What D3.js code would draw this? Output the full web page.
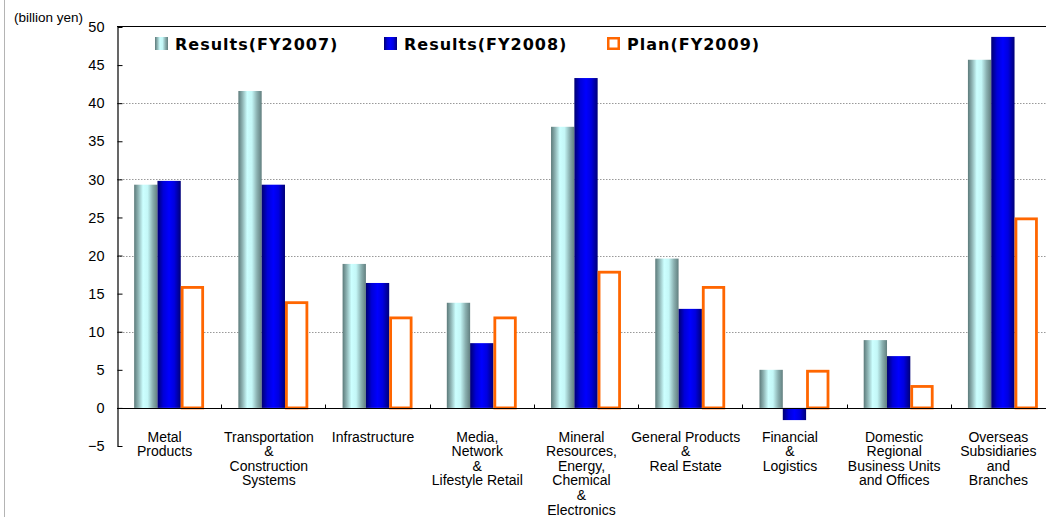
<!DOCTYPE html>
<html>
<head>
<meta charset="utf-8">
<script src="https://cdn.jsdelivr.net/npm/d3@7/dist/d3.min.js"></script>
<style>
  html, body { margin: 0; padding: 0; background: #fff; }
  svg { display: block; }
</style>
</head>
<body>
<svg id="chart" width="1046" height="517"></svg>
<script>
// Segment labels (each entry is the stack of lines printed under the group)
const categories = [
  ["Metal", "Products"],
  ["Transportation", "&", "Construction", "Systems"],
  ["Infrastructure"],
  ["Media,", "Network", "&", "Lifestyle Retail"],
  ["Mineral", "Resources,", "Energy,", "Chemical", "&", "Electronics"],
  ["General Products", "&", "Real Estate"],
  ["Financial", "&", "Logistics"],
  ["Domestic", "Regional", "Business Units", "and Offices"],
  ["Overseas", "Subsidiaries", "and", "Branches"]
];

const seriesNames = ["Results(FY2007)", "Results(FY2008)", "Plan(FY2009)"];

// billion yen
const results2007 = [29.3, 41.6, 18.9, 13.8, 36.9, 19.6, 5.0, 8.9, 45.7];
const results2008 = [29.8, 29.3, 16.4, 8.5, 43.3, 13.0, -1.6, 6.8, 48.7];
const plan2009    = [16, 14, 12, 12, 18, 16, 5, 3, 25];

const yTicks = [-5, 0, 5, 10, 15, 20, 25, 30, 35, 40, 45, 50];
const gridValues = [10, 20, 30, 40];

const svg = d3.select("#chart");
const catKeys = categories.map((c, i) => i);

const plotLeft = 117, plotRight = 1055, plotTop = 27, plotBottom = 446;

const x0 = d3.scaleBand().domain(catKeys).range([plotLeft, plotRight]).padding(0);
const x1 = d3.scaleBand().domain([0, 1, 2]).range([0, x0.bandwidth()])
  .paddingInner(0).paddingOuter(0.736);
const y = d3.scaleLinear().domain([-5, 50]).range([plotBottom, plotTop]);

// gradients for the shaded bars
const defs = svg.append("defs");
function hGrad(id, stops) {
  const g = defs.append("linearGradient").attr("id", id)
    .attr("x1", "0%").attr("x2", "100%").attr("y1", "0%").attr("y2", "0%");
  stops.forEach(([o, c]) => g.append("stop").attr("offset", o).attr("stop-color", c));
}
hGrad("tealGrad", [["0%", "#5c7a7a"], ["18%", "#8fb5b5"], ["38%", "#ccffff"], ["58%", "#c4f7f7"], ["80%", "#8ab0b0"], ["100%", "#627f7f"]]);
hGrad("blueGrad", [["0%", "#000070"], ["25%", "#0000d8"], ["50%", "#0000ff"], ["72%", "#0000e0"], ["100%", "#000078"]]);

// outer frame edge
svg.append("line").attr("x1", 4.5).attr("x2", 4.5).attr("y1", 0).attr("y2", 517)
  .attr("stroke", "#b4b4b4").attr("stroke-width", 1);

// dotted gridlines
svg.append("g").selectAll("line").data(gridValues).join("line")
  .attr("x1", plotLeft).attr("x2", 1046)
  .attr("y1", d => Math.round(y(d)) + 0.5).attr("y2", d => Math.round(y(d)) + 0.5)
  .attr("stroke", "#999").attr("stroke-width", 1).attr("stroke-dasharray", "1.5,1.5");

// top border of plot
svg.append("line").attr("x1", plotLeft).attr("x2", 1046)
  .attr("y1", Math.round(y(50)) - 0.5).attr("y2", Math.round(y(50)) - 0.5)
  .attr("stroke", "#000").attr("stroke-width", 1.2);

// bars
const groups = svg.append("g").selectAll("g").data(catKeys).join("g")
  .attr("transform", i => `translate(${x0(i)},0)`);

groups.append("rect")
  .attr("x", x1(0)).attr("width", x1.bandwidth())
  .attr("y", i => y(Math.max(0, results2007[i])))
  .attr("height", i => Math.abs(y(results2007[i]) - y(0)))
  .attr("fill", "url(#tealGrad)");

groups.append("rect")
  .attr("x", x1(1)).attr("width", x1.bandwidth())
  .attr("y", i => y(Math.max(0, results2008[i])))
  .attr("height", i => Math.abs(y(results2008[i]) - y(0)))
  .attr("fill", "url(#blueGrad)");

const sw = 2.8;
groups.append("rect")
  .attr("x", x1(2) + sw / 2).attr("width", x1.bandwidth() - sw)
  .attr("y", i => y(Math.max(0, plan2009[i])) + sw / 2)
  .attr("height", i => Math.abs(y(plan2009[i]) - y(0)) - sw / 2)
  .attr("fill", "#fff").attr("stroke", "#ff6600").attr("stroke-width", sw);

// zero line with category ticks
const zeroY = Math.round(y(0)) + 0.5;
svg.append("line").attr("x1", plotLeft).attr("x2", 1046)
  .attr("y1", zeroY).attr("y2", zeroY).attr("stroke", "#000").attr("stroke-width", 1.2);
svg.append("g").selectAll("line").data(catKeys.slice(1)).join("line")
  .attr("x1", i => Math.round(x0(i)) + 0.5).attr("x2", i => Math.round(x0(i)) + 0.5)
  .attr("y1", zeroY - 4).attr("y2", zeroY)
  .attr("stroke", "#000").attr("stroke-width", 1);

// y axis
const yAxis = d3.axisLeft(y).tickValues(yTicks).tickSizeInner(-5).tickSizeOuter(0)
  .tickPadding(13)
  .tickFormat(d => d < 0 ? "\u2212" + Math.abs(d) : d);
const ya = svg.append("g").attr("transform", `translate(${plotLeft + 0.5},0)`).call(yAxis);
ya.select(".domain").attr("stroke", "#000").attr("stroke-width", 1.2);
ya.selectAll(".tick line").attr("stroke", "#000");
ya.selectAll(".tick text")
  .attr("font-family", "'Liberation Sans', Arial, sans-serif")
  .attr("font-size", 14.5).attr("fill", "#000");

// unit label
svg.append("text").attr("x", 14).attr("y", 22)
  .attr("font-family", "'Liberation Sans', Arial, sans-serif")
  .attr("font-size", 13.5).attr("fill", "#000").text("(billion yen)");

// category labels, set slightly left of the group centre
const labelShift = -4.5;
const labels = svg.append("g")
  .attr("font-family", "'Liberation Sans', Arial, sans-serif")
  .attr("font-size", 14).attr("fill", "#000").attr("text-anchor", "middle");
labels.selectAll("text").data(catKeys).join("text")
  .attr("x", i => x0(i) + x0.bandwidth() / 2 + labelShift)
  .attr("y", 441.5)
  .each(function(i) {
    const t = d3.select(this);
    categories[i].forEach((line, k) => {
      t.append("tspan").attr("x", x0(i) + x0.bandwidth() / 2 + labelShift)
        .attr("dy", k === 0 ? 0 : 14.6).text(line);
    });
  });

// legend
const legendX = [155, 384, 607];
const fills = ["url(#tealGrad)", "url(#blueGrad)", "#fff"];
const leg = svg.append("g").selectAll("g").data(seriesNames).join("g")
  .attr("transform", (d, i) => `translate(${legendX[i]},37)`);
leg.append("rect")
  .attr("x", (d, i) => i === 2 ? 1.25 : 0).attr("y", (d, i) => i === 2 ? 1.25 : 0)
  .attr("width", (d, i) => i === 2 ? 10.5 : 13)
  .attr("height", (d, i) => i === 2 ? 10.5 : 13)
  .attr("fill", (d, i) => fills[i])
  .attr("stroke", (d, i) => i === 2 ? "#ff6600" : "none")
  .attr("stroke-width", 2.5);
leg.append("text")
  .attr("x", 20)
  .attr("y", 13)
  .attr("font-family", "'DejaVu Sans', sans-serif")
  .attr("font-weight", "bold").attr("font-size", 16)
  .attr("letter-spacing", 1)
  .attr("fill", "#000").text(d => d);
</script>
</body>
</html>
